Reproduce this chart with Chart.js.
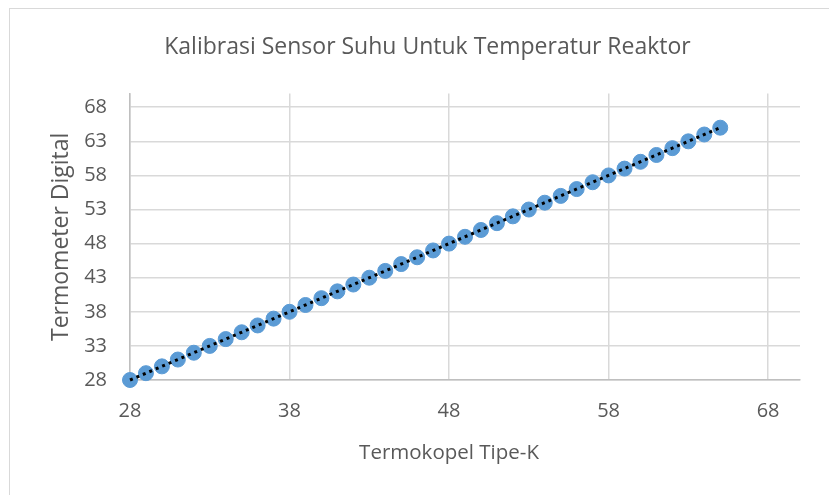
<!DOCTYPE html>
<html>
<head>
<meta charset="utf-8">
<script src="https://cdn.jsdelivr.net/npm/chart.js@4"></script>
<style>
  html, body { margin: 0; padding: 0; background: #fff; }
  #wrap { position: relative; width: 829px; height: 495px; }
  #frame { position: absolute; left: 9px; top: 8px; width: 830px; height: 500px;
           border-left: 1px solid #d9d9d9; border-top: 1px solid #d9d9d9; }
  canvas { position: absolute; left: 0; top: 0; }
</style>
</head>
<body>
<div id="wrap">
  <div id="frame"></div>
  <canvas id="calibChart" width="829" height="495"></canvas>
</div>
<script>
// Termokopel Tipe-K readings (x) vs Termometer Digital readings (y)
const termokopel = [28, 29, 30, 31, 32, 33, 34, 35, 36, 37, 38, 39, 40, 41, 42, 43, 44, 45, 46,
  47, 48, 49, 50, 51, 52, 53, 54, 55, 56, 57, 58, 59, 60, 61, 62, 63, 64, 65];
const termometer = [28, 29, 30, 31, 32, 33, 34, 35, 36, 37, 38, 39, 40, 41, 42, 43, 44, 45, 46,
  47, 48, 49, 50, 51, 52, 53, 54, 55, 56, 57, 58, 59, 60, 61, 62, 63, 64, 65];
const xTicks = [28, 38, 48, 58, 68];
const yTicks = [28, 33, 38, 43, 48, 53, 58, 63, 68];

const points = termokopel.map((x, i) => ({ x: x, y: termometer[i] }));

// linear trendline (least squares) over the same readings
const n = termokopel.length;
const sx = termokopel.reduce((a, b) => a + b, 0);
const sy = termometer.reduce((a, b) => a + b, 0);
const sxy = termokopel.reduce((a, x, i) => a + x * termometer[i], 0);
const sxx = termokopel.reduce((a, x) => a + x * x, 0);
const slope = (n * sxy - sx * sy) / (n * sxx - sx * sx);
const icpt = (sy - slope * sx) / n;
const xFirst = termokopel[0], xLast = termokopel[n - 1];
const trend = [
  { x: xFirst, y: slope * xFirst + icpt },
  { x: xLast, y: slope * xLast + icpt }
];

const textColor = '#595959';
const fontFam = '"Open Sans", sans-serif';

// nudge the chart title so it is centred on the outer frame, not the plot
const titleShift = {
  id: 'titleShift',
  afterLayout(chart) {
    if (chart.titleBlock) chart.titleBlock.left += 55;
  }
};

const ctx = document.getElementById('calibChart').getContext('2d');
const calibChart = new Chart(ctx, {
  type: 'scatter',
  data: {
    datasets: [{
      label: 'Data',
      data: points,
      backgroundColor: '#5b9bd5',
      borderColor: '#5b9bd5',
      pointRadius: 7.5,
      pointHoverRadius: 7.5,
      clip: false,
      order: 2
    }, {
      label: 'Trendline',
      type: 'line',
      data: trend,
      borderColor: '#000',
      borderWidth: 3,
      borderDash: [3, 4],
      pointRadius: 0,
      fill: false,
      clip: false,
      order: 1
    }]
  },
  options: {
    responsive: false,
    animation: false,
    layout: { padding: { left: 0, right: 29, top: 0, bottom: 0 } },
    plugins: {
      legend: { display: false },
      tooltip: { enabled: false },
      title: {
        display: true,
        text: 'Kalibrasi Sensor Suhu Untuk Temperatur Reaktor',
        color: textColor,
        font: { family: fontFam, size: 23, weight: 'normal' },
        padding: { top: 34, bottom: 32 }
      }
    },
    scales: {
      x: {
        type: 'linear',
        min: 28,
        max: 70,
        afterBuildTicks: (s) => { s.ticks = xTicks.map(v => ({ value: v })); },
        afterFit: (s) => { s.height = 115; },
        grid: { color: '#d9d9d9', lineWidth: 1.5, drawTicks: false },
        border: { color: '#bfbfbf', width: 1.5 },
        ticks: { color: textColor, font: { family: fontFam, size: 20 }, padding: 19, maxRotation: 0 },
        title: {
          display: true,
          text: 'Termokopel Tipe-K      ',
          color: textColor,
          font: { family: fontFam, size: 20.5 },
          padding: { top: 0, bottom: 30 }
        }
      },
      y: {
        type: 'linear',
        min: 28,
        max: 70,
        afterBuildTicks: (s) => { s.ticks = yTicks.map(v => ({ value: v })); },
        afterFit: (s) => { s.width = 130; },
        grid: { color: '#d9d9d9', lineWidth: 1.5, drawTicks: false },
        border: { color: '#bfbfbf', width: 1.5 },
        ticks: { color: textColor, font: { family: fontFam, size: 20 }, padding: 23 },
        title: {
          display: true,
          text: 'Termometer Digital',
          color: textColor,
          font: { family: fontFam, size: 23 },
          padding: { top: 48, bottom: 0 }
        }
      }
    }
  },
  plugins: [titleShift]
});
</script>
</body>
</html>
